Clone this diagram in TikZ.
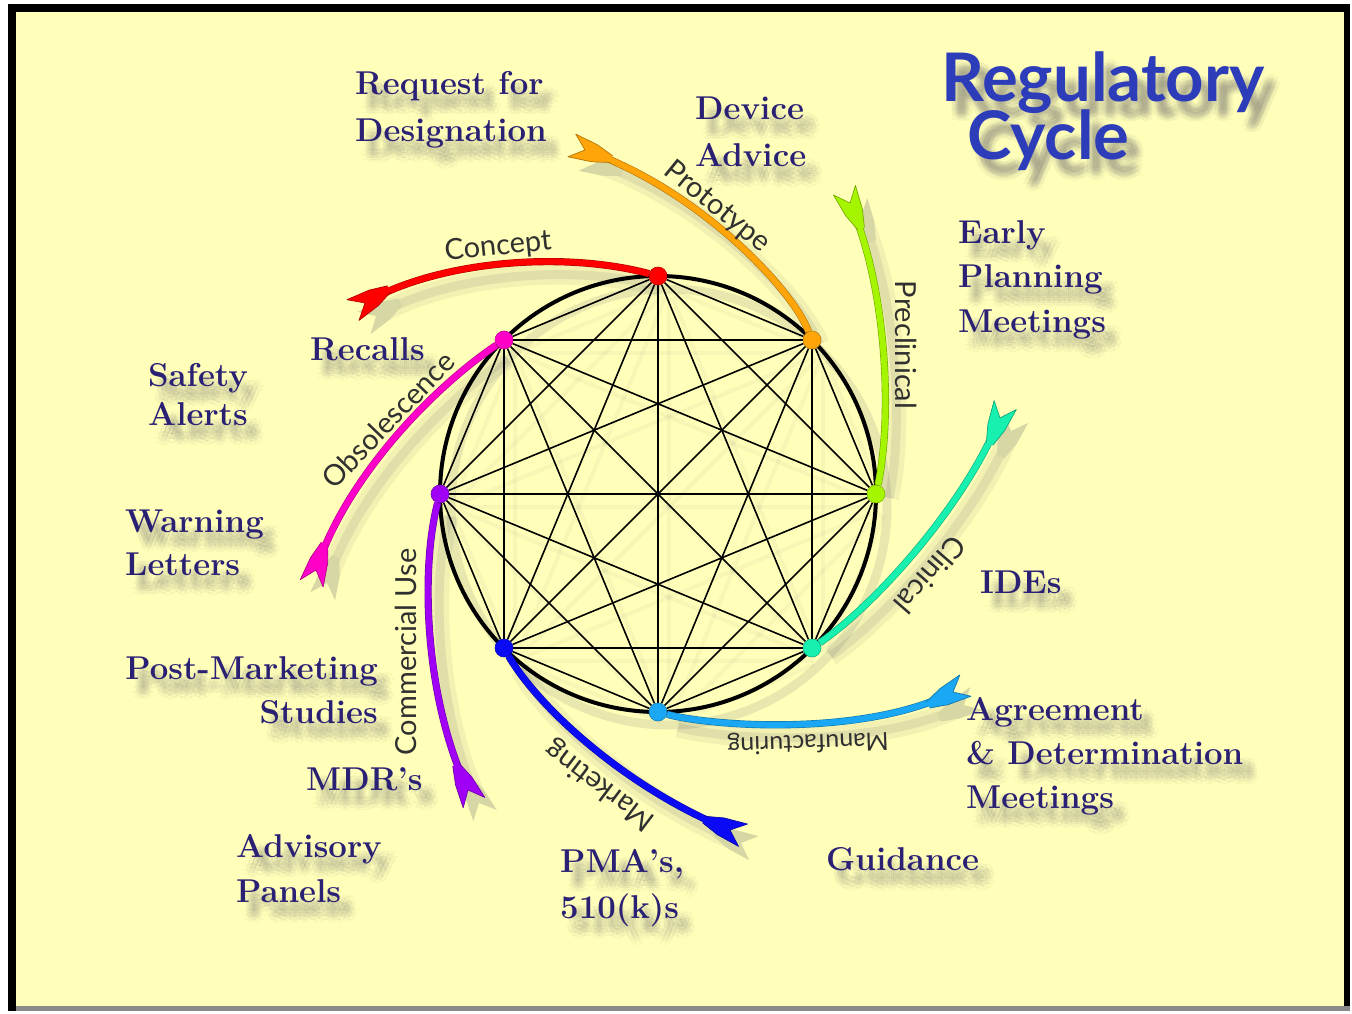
\documentclass[tikz,border=0pt]{standalone}
\usepackage{fontspec}
\newfontfamily\titlefont{Lato}
\newfontfamily\arcfont{Lato}
\usetikzlibrary{decorations.markings}

\definecolor{paper}{HTML}{FFFFB9}
\definecolor{navy}{HTML}{2B2174}
\definecolor{titleblue}{HTML}{2D3CB9}
\definecolor{arcgray}{HTML}{303030}
\definecolor{shadowc}{HTML}{4A4560}
\definecolor{framegray}{HTML}{8A8A8A}
\definecolor{cRed}{HTML}{FF0000}
\definecolor{cOrange}{HTML}{FFA50A}
\definecolor{cLime}{HTML}{A6F500}
\definecolor{cTeal}{HTML}{18F0B0}
\definecolor{cSky}{HTML}{1AA8F5}
\definecolor{cBlue}{HTML}{0A0AF5}
\definecolor{cViolet}{HTML}{A000F5}
\definecolor{cMagenta}{HTML}{FF00C8}

\pgfdeclarelayer{back}
\pgfdeclarelayer{shade}
\pgfdeclarelayer{web}
\pgfdeclarelayer{rays}
\pgfsetlayers{back,shade,web,rays,main}

\tikzset{
  dot/.style={circle, inner sep=0pt, minimum size=18pt, fill=#1, draw=#1!75!black, line width=0.6pt},
  chord/.style={draw=black, line width=1.6pt},
  rim/.style={draw=black, line width=4pt},
  fletch/.style={postaction={decorate, decoration={markings, mark=at position 0.9999 with {
      \fill[#1] (-28,3.5) -- (-10,9) -- (14,12) -- (0,0) -- (14,-12) -- (-10,-9) -- (-28,-3.5) -- cycle;
      \draw[#1!70!black, line width=0.7pt, line join=round] (-28,3.5) -- (-10,9) -- (14,12) -- (0,0) -- (14,-12) -- (-10,-9) -- (-28,-3.5);
  }}}},
  ray/.style={line width=6pt, draw=#1, preaction={draw=#1!70!black, line width=7.2pt}, fletch=#1},
  shadowfletch/.style={postaction={decorate, decoration={markings, mark=at position 0.9999 with {
      \fill[#1] (-28,4) -- (-10,10) -- (14,13) -- (0,0) -- (14,-13) -- (-10,-10) -- (-28,-4) -- cycle;
  }}}},
  lbl/.style={inner sep=0pt, text=navy, font=\fontsize{33}{40}\selectfont\bfseries},
  arclbl/.style={inner sep=0pt, text=arcgray, font=\arcfont\fontsize{29}{31}\selectfont},
  titlelbl/.style={inner sep=0pt, text=titleblue, font=\titlefont\bfseries\fontsize{67}{70}\selectfont},
}

% a text line with a soft, blurred drop shadow: name, style, anchor, position, text
\newcommand\softline[5]{%
  \begin{pgfonlayer}{shade}
    \foreach \r/\q in {2.5/a,6/b}{\foreach \k in {1,...,8}{%
      \node[xshift={11+\r*cos(45*\k+22.5*\r)}, yshift={-14-\r*sin(45*\k+22.5*\r)}, #2, anchor=#3,
            text=shadowc, text opacity=0.04] (#1-s\q\k) at #4 {#5};}}
  \end{pgfonlayer}
  \node[#2, anchor=#3] (#1) at #4 {#5};}

% one line of a regulatory activity
\newcommand\navyline[4]{\softline{#1}{lbl}{#2}{#3}{#4}}

% a coloured ray leaving the cycle, with its shadow
\newcommand\rayline[5]{%
  \begin{pgfonlayer}{shade}
    \begin{scope}[transform canvas={shift={(11pt,-13pt)}}]
      \draw[shadowc, draw opacity=0.07, line width=20pt] (#1) .. controls (#2) and (#3) .. (#4);
      \draw[shadowc, draw opacity=0.10, line width=9pt, shadowfletch=shadowc!22!paper] (#1) .. controls (#2) and (#3) .. (#4);
    \end{scope}
  \end{pgfonlayer}
  \begin{pgfonlayer}{rays}
    \draw[ray=#5] (#1) .. controls (#2) and (#3) .. (#4);
  \end{pgfonlayer}}

\begin{document}
\begin{tikzpicture}[x=1pt, y=-1pt]
\useasboundingbox (0,0) rectangle (1352,1014);

% frame and paper
\begin{pgfonlayer}{back}
  \fill[white] (0,0) rectangle (1352,1014);
  \fill[black] (8,4) rectangle (1350,1011);
  \fill[framegray] (16,1006) rectangle (1350,1011);
  \fill[paper] (16,12) rectangle (1344,1006);
\end{pgfonlayer}

% the eight stages on the cycle
\coordinate (ctr) at (658,494);
\node[dot=cRed]     (p1) at (658,276) {};
\node[dot=cOrange]  (p2) at (812,340) {};
\node[dot=cLime]    (p3) at (876,494) {};
\node[dot=cTeal]    (p4) at (812,648) {};
\node[dot=cSky]     (p5) at (658,712) {};
\node[dot=cBlue]    (p6) at (504,648) {};
\node[dot=cViolet]  (p7) at (440,494) {};
\node[dot=cMagenta] (p8) at (504,340) {};

% every stage linked with every other
\begin{pgfonlayer}{shade}
  \begin{scope}[transform canvas={shift={(11pt,-13pt)}}]
    \draw[shadowc, draw opacity=0.12, line width=9pt] (ctr) circle[radius=218];
    \foreach \i in {1,...,7}{
      \pgfmathtruncatemacro\nxt{\i+1}
      \foreach \j in {\nxt,...,8}{ \draw[shadowc, draw opacity=0.045, line width=4pt] (p\i) -- (p\j); }
    }
  \end{scope}
\end{pgfonlayer}
\begin{pgfonlayer}{web}
  \foreach \i in {1,...,7}{
    \pgfmathtruncatemacro\nxt{\i+1}
    \foreach \j in {\nxt,...,8}{ \draw[chord] (p\i) -- (p\j); }
  }
  \draw[rim] (ctr) circle[radius=218];
\end{pgfonlayer}

% free ends of the rays
\coordinate (eRed)     at (365,303);
\coordinate (eOrange)  at (585,150);
\coordinate (eLime)    at (850,203);
\coordinate (eTeal)    at (1000,418);
\coordinate (eSky)     at (953,692);
\coordinate (eBlue)    at (730,830);
\coordinate (eViolet)  at (468,790);
\coordinate (eMagenta) at (316,570);

\rayline{p1}{560,250}{435,262}{eRed}{cRed}
\rayline{p2}{790,285}{695,188}{eOrange}{cOrange}
\rayline{p3}{892,420}{888,290}{eLime}{cLime}
\rayline{p4}{875,605}{965,505}{eTeal}{cTeal}
\rayline{p5}{720,728}{870,735}{eSky}{cSky}
\rayline{p6}{540,710}{630,790}{eBlue}{cBlue}
\rayline{p7}{420,570}{425,700}{eViolet}{cViolet}
\rayline{p8}{430,390}{345,480}{eMagenta}{cMagenta}

% stage names along the rays
\node[arclbl, rotate=6]    (lConcept) at (498,247) {Concept};
\node[arclbl, rotate=-39]  (lProto)   at (717,207) {Prototype};
\node[arclbl, rotate=-90]  (lPre)     at (906,345) {Preclinical};
\node[arclbl, rotate=-131] (lClin)    at (930,575) {Clinical};
\node[arclbl, rotate=182, font=\arcfont\fontsize{25}{27}\selectfont] (lManu) at (808,742) {Manufacturing};
\node[arclbl, rotate=143]  (lMark)    at (600,785) {Marketing};
\node[arclbl, rotate=90]   (lComm)    at (406,652) {Commercial Use};
\node[arclbl, rotate=46]   (lObs)     at (388,420) {Obsolescence};

% regulatory activities
\navyline{rfd1}{base west}{(355,95)}{Request for}
\navyline{rfd2}{base west}{(355,142)}{Designation}
\navyline{dev1}{base west}{(695,120)}{Device}
\navyline{dev2}{base west}{(695,167)}{Advice}
\navyline{epm1}{base west}{(958,243)}{Early}
\navyline{epm2}{base west}{(958,287)}{Planning}
\navyline{epm3}{base west}{(958,332)}{Meetings}
\navyline{ide}{base west}{(980,593)}{IDEs}
\navyline{adm1}{base west}{(966,720)}{Agreement}
\navyline{adm2}{base west}{(966,764)}{\& Determination}
\navyline{adm3}{base west}{(966,808)}{Meetings}
\navyline{gui}{base west}{(826,870)}{Guidance}
\navyline{pma1}{base west}{(560,872)}{PMA’s,}
\navyline{pma2}{base west}{(560,918)}{510(k)s}
\navyline{adv1}{base west}{(236,857)}{Advisory}
\navyline{adv2}{base west}{(236,902)}{Panels}
\navyline{mdr}{base west}{(306,790)}{MDR’s}
\navyline{pms1}{base east}{(378,679)}{Post-Marketing}
\navyline{pms2}{base east}{(378,723)}{Studies}
\navyline{wl1}{base west}{(125,532)}{Warning}
\navyline{wl2}{base west}{(125,575)}{Letters}
\navyline{sa1}{base}{(198,386)}{Safety}
\navyline{sa2}{base}{(198,425)}{Alerts}
\navyline{rec}{base west}{(310,360)}{Recalls}

% title
\softline{tReg}{titlelbl}{base west}{(941,102)}{Regulatory}
\softline{tCyc}{titlelbl}{base west}{(967,160)}{Cycle}
\end{tikzpicture}
\end{document}
